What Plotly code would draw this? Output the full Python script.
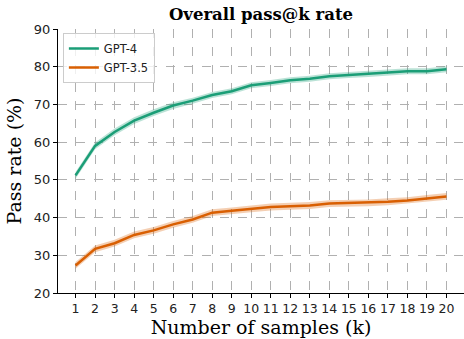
import plotly.graph_objects as go

k_values = list(range(1, 21))
gpt4_mean = [51.2, 59.0, 62.7, 65.7, 67.8, 69.7, 71.0, 72.5, 73.5, 75.1,
             75.7, 76.4, 76.8, 77.5, 77.8, 78.1, 78.4, 78.8, 78.8, 79.3]
gpt4_ci = [0.9, 0.9, 0.9, 0.9, 0.9, 0.9, 0.8, 0.8, 0.8, 0.8,
           0.8, 0.8, 0.8, 0.8, 0.8, 0.8, 0.8, 0.8, 0.8, 0.8]
gpt35_mean = [27.3, 31.7, 33.2, 35.4, 36.6, 38.2, 39.5, 41.3, 41.8, 42.3,
              42.8, 43.0, 43.2, 43.7, 43.8, 43.9, 44.2, 44.5, 45.1, 45.6]
gpt35_ci = [0.9, 0.9, 0.9, 0.9, 0.9, 0.9, 0.9, 0.9, 0.9, 0.9,
            0.9, 0.9, 0.9, 0.9, 0.9, 0.9, 0.9, 0.9, 0.9, 0.9]
y_ticks = [20, 30, 40, 50, 60, 70, 80, 90]

series = [
    ("GPT-4", gpt4_mean, gpt4_ci, "#1b9e77", "rgba(27,158,119,0.3)"),
    ("GPT-3.5", gpt35_mean, gpt35_ci, "#d95f02", "rgba(217,95,2,0.3)"),
]

fig = go.Figure()
for name, mean, ci, color, fill in series:
    upper = [m + c for m, c in zip(mean, ci)]
    lower = [m - c for m, c in zip(mean, ci)]
    fig.add_trace(go.Scatter(x=k_values + k_values[::-1], y=upper + lower[::-1],
                             fill="toself", fillcolor=fill, line=dict(width=0),
                             mode="lines", showlegend=False, hoverinfo="skip"))
for name, mean, ci, color, fill in series:
    fig.add_trace(go.Scatter(x=k_values, y=mean, mode="lines", name=name,
                             line=dict(color=color, width=2.5)))

fig.update_layout(
    width=464, height=339,
    margin=dict(l=58, r=0, t=29, b=46, autoexpand=False),
    paper_bgcolor="white", plot_bgcolor="white",
    title=dict(text="<b>Overall pass@k rate</b>", x=0.5, xref="paper", xanchor="center",
               y=1 - 14 / 339, yref="container", yanchor="middle",
               font=dict(family="DejaVu Serif", size=16.5, color="black")),
    legend=dict(x=0.012, y=0.985, xanchor="left", yanchor="top",
                bgcolor="rgba(255,255,255,0.8)", bordercolor="#cccccc", borderwidth=1,
                font=dict(family="DejaVu Sans", size=11.5, color="#222"),
                itemwidth=30, tracegroupgap=0),
    showlegend=True,
)
fig.update_xaxes(range=[0.1, 20.9], tickmode="array", tickvals=k_values,
                 ticktext=[str(k) for k in k_values], automargin=False,
                 showline=True, linecolor="black", linewidth=1,
                 ticks="outside", ticklen=4, tickcolor="black",
                 showgrid=True, gridcolor="#b0b0b0", griddash="dash", gridwidth=1,
                 zeroline=False,
                 tickfont=dict(family="DejaVu Sans", size=12.5, color="#222"),
                 title=dict(text="Number of samples (k)", standoff=5,
                            font=dict(family="DejaVu Serif", size=19, color="black")))
fig.update_yaxes(range=[20, 90], tickmode="array", tickvals=y_ticks, automargin=False,
                 showline=True, linecolor="black", linewidth=1,
                 ticks="outside", ticklen=4, tickcolor="black",
                 showgrid=True, gridcolor="#b0b0b0", griddash="dash", gridwidth=1,
                 zeroline=False,
                 tickfont=dict(family="DejaVu Sans", size=13, color="#222"),
                 title=dict(text="Pass rate (%)", standoff=7,
                            font=dict(family="DejaVu Serif", size=19, color="black")))

fig.write_html("out.html", config={"displayModeBar": False},
               post_script="document.body.style.margin='0';")
